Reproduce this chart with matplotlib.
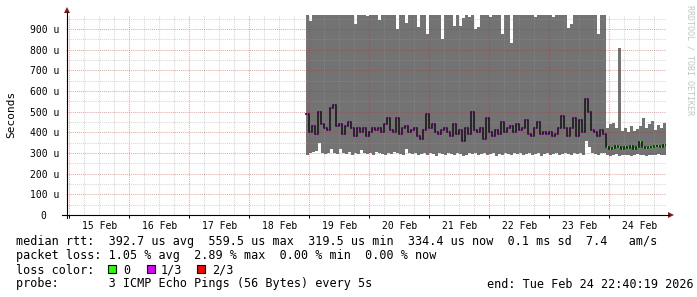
import numpy as np
import matplotlib
matplotlib.use("Agg")
import matplotlib.pyplot as plt
from matplotlib.lines import Line2D
from matplotlib.patches import Rectangle, Polygon

W, H = 697, 297

# time axis in days since 15 Feb 00:00, one consolidated sample per 72 min
start_day = 3.945
step_day = 0.05
end_day = 9.9447  # Tue Feb 24 22:40:19

day_labels = ["15 Feb", "16 Feb", "17 Feb", "18 Feb", "19 Feb",
              "20 Feb", "21 Feb", "22 Feb", "23 Feb", "24 Feb"]
y_ticks_us = [0, 100, 200, 300, 400, 500, 600, 700, 800, 900]

# top of the smoke (max ping), microseconds; values above ~970 are clipped
hi_us = [1000, 940, 1000, 1000, 1000, 1000, 1000, 1000, 1000, 1000,
         1000, 1000, 1000, 1000, 1000, 1000, 924, 1000, 1000, 1000,
         963, 1000, 1000, 1000, 943, 1000, 1000, 1000, 1000, 1000,
         900, 1000, 1000, 930, 1000, 1000, 1000, 911, 1000, 1000,
         876, 1000, 1000, 1000, 1000, 850, 1000, 1000, 1000, 914,
         1000, 916, 955, 1000, 960, 1000, 898, 911, 1000, 1000,
         1000, 960, 1000, 1000, 1000, 876, 1000, 1000, 831, 1000,
         1000, 1000, 1000, 1000, 1000, 1000, 960, 1000, 1000, 1000,
         1000, 1000, 960, 1000, 1000, 1000, 1000, 906, 924, 1000,
         1000, 1000, 1000, 1000, 1000, 1000, 1000, 876, 1000, 1000,
         420, 440, 445, 420, 806, 405, 420, 400, 430, 405,
         415, 430, 470, 420, 440, 455, 410, 435, 420, 445]

# bottom of the smoke (min ping)
lo_us = [290, 300, 305, 310, 350, 300, 295, 300, 320, 300,
         295, 320, 300, 295, 305, 290, 300, 295, 315, 300,
         295, 300, 290, 305, 300, 295, 290, 300, 295, 305,
         300, 295, 290, 320, 300, 295, 300, 290, 295, 300,
         290, 300, 295, 285, 300, 295, 290, 300, 295, 290,
         300, 295, 285, 290, 300, 295, 300, 290, 295, 300,
         290, 295, 300, 285, 295, 290, 300, 295, 290, 300,
         295, 300, 290, 295, 300, 290, 295, 300, 285, 295,
         300, 290, 295, 300, 290, 295, 300, 295, 290, 300,
         295, 300, 290, 360, 330, 300, 295, 290, 300, 300,
         290, 285, 290, 295, 285, 290, 288, 292, 285, 290,
         295, 288, 290, 285, 292, 290, 288, 295, 290, 292]

# median rtt
median_us = [490, 400, 430, 390, 500, 440, 420, 410, 520, 530,
             430, 440, 390, 430, 450, 420, 380, 420, 400, 420,
             380, 400, 420, 410, 420, 400, 440, 470, 410, 400,
             470, 390, 420, 430, 400, 410, 420, 380, 370, 410,
             490, 420, 440, 400, 390, 410, 420, 400, 380, 440,
             390, 410, 360, 420, 390, 500, 410, 400, 420, 370,
             470, 400, 380, 410, 390, 450, 400, 420, 430, 400,
             440, 410, 420, 460, 390, 380, 420, 450, 390, 400,
             390, 400, 380, 390, 420, 480, 420, 380, 420, 470,
             380, 460, 400, 560, 500, 410, 400, 380, 410, 390,
             330, 320, 325, 335, 330, 320, 330, 325, 335, 320,
             330, 355, 330, 325, 330, 330, 335, 335, 330, 340]

# loss bucket per sample: 0 -> none, 1 -> up to 1/3
loss_level = [1] * 100 + [0] * 20
loss_colors = ["#26ff00", "#dd00ff", "#ff0000"]
loss_names = ["0", "1/3", "2/3"]

rtt_line = "median rtt:  392.7 us avg  559.5 us max  319.5 us min  334.4 us now  0.1 ms sd  7.4   am/s"
loss_line = "packet loss: 1.05 % avg  2.89 % max  0.00 % min  0.00 % now"
probe_line = "probe:       3 ICMP Echo Pings (56 Bytes) every 5s"
end_line = "end: Tue Feb 24 22:40:19 2026"


def fx(x):
    return x / W


def fy(y):
    return 1 - y / H


mono = "DejaVu Sans Mono"
fig = plt.figure(figsize=(W / 100, H / 100), dpi=100)
fig.patch.set_facecolor("white")
ax = fig.add_axes([fx(66), fy(215), 600 / W, (215 - 14.5) / H])
ax.set_xlim(end_day - 10, end_day)
ax.set_ylim(0, 970)
for s in ax.spines.values():
    s.set_visible(False)

n = len(median_us)
t = start_day + step_day * np.arange(n)
edges = start_day + step_day * np.arange(n + 1)
hi = np.append(hi_us, hi_us[-1])
lo = np.append(lo_us, lo_us[-1])
med = np.append(median_us, median_us[-1])

# smoke
ax.fill_between(edges, lo, hi, step="post", color="#737373", lw=0, zorder=1)

# grid on top of the smoke, like rrdtool
for d in np.arange(-0.25, 10.0, 0.25):
    if abs(d - round(d)) < 1e-6:
        ax.axvline(d, color="#c03030", alpha=0.4, lw=0.75, ls=(0, (1, 1)), zorder=2)
    else:
        ax.axvline(d, color="#9a9a9a", alpha=0.4, lw=0.75, ls=(0, (1, 1)), zorder=2)
for v in range(50, 970, 50):
    if v % 100 == 0:
        ax.axhline(v, color="#c03030", alpha=0.4, lw=0.75, ls=(0, (1, 1)), zorder=2)
    else:
        ax.axhline(v, color="#9a9a9a", alpha=0.4, lw=0.75, ls=(0, (1, 1)), zorder=2)

# median line and loss coloured bands
ax.step(edges, med, where="post", color="#202020", lw=1.3, zorder=3)
ax.hlines(median_us, t + step_day * 0.3, t + step_day * 0.75,
          colors=[loss_colors[k] for k in loss_level], lw=1.6, zorder=4)

# ticks and labels
ax.set_xticks(np.arange(0, 10))
ax.set_xticklabels([])
ax.set_xticks(np.arange(10) + 0.5, day_labels, minor=True)
ax.tick_params(axis="x", which="major", length=2.2, width=0.75, color="black")
ax.tick_params(axis="x", which="minor", length=0, pad=4, labelsize=7)
ax.set_yticks(y_ticks_us)
ax.set_yticklabels([("%d u" % v) if v else "0  " for v in y_ticks_us])
ax.tick_params(axis="y", length=0, pad=5, labelsize=7)
for lab in ax.get_xticklabels(minor=True) + ax.get_yticklabels():
    lab.set_family(mono)

# axes with arrows
fig.add_artist(Line2D([fx(62), fx(669)], [fy(215), fy(215)], color="black", lw=0.8))
fig.add_artist(Line2D([fx(67), fx(67)], [fy(218), fy(12)], color="black", lw=0.8))
fig.add_artist(Polygon([[fx(668), fy(212)], [fx(674), fy(215)], [fx(668), fy(218)]],
                       closed=True, color="#8b1a1a", lw=0))
fig.add_artist(Polygon([[fx(64), fy(13)], [fx(67), fy(7)], [fx(70), fy(13)]],
                       closed=True, color="#8b1a1a", lw=0))

fig.text(fx(11), fy(114), "Seconds", rotation=90, ha="center", va="center",
         family=mono, fontsize=8)
fig.text(fx(690), fy(60), "RRDTOOL / TOBI OETIKER", rotation=270, ha="center",
         va="center", family=mono, fontsize=6, color="#c4c4c4")

# legend / stats block
fig.text(fx(16), fy(245.5), rtt_line, family=mono, fontsize=8.5, va="baseline")
fig.text(fx(16), fy(259.5), loss_line, family=mono, fontsize=8.5, va="baseline")
fig.text(fx(16), fy(273.5), "loss color:", family=mono, fontsize=8.5, va="baseline")
box_x = [108, 147, 197]
name_x = [123, 161, 212]
for c, name, bx, nx in zip(loss_colors, loss_names, box_x, name_x):
    fig.add_artist(Rectangle((fx(bx), fy(273)), 8 / W, 8 / H, facecolor=c,
                             edgecolor="black", lw=0.8))
    fig.text(fx(nx), fy(273.5), name, family=mono, fontsize=8.5, va="baseline")
fig.text(fx(16), fy(287.5), probe_line, family=mono, fontsize=8.5, va="baseline")
fig.text(fx(694), fy(287.5), end_line, family=mono, fontsize=8.5, va="baseline",
         ha="right")

fig.savefig("out.png", dpi=100)
